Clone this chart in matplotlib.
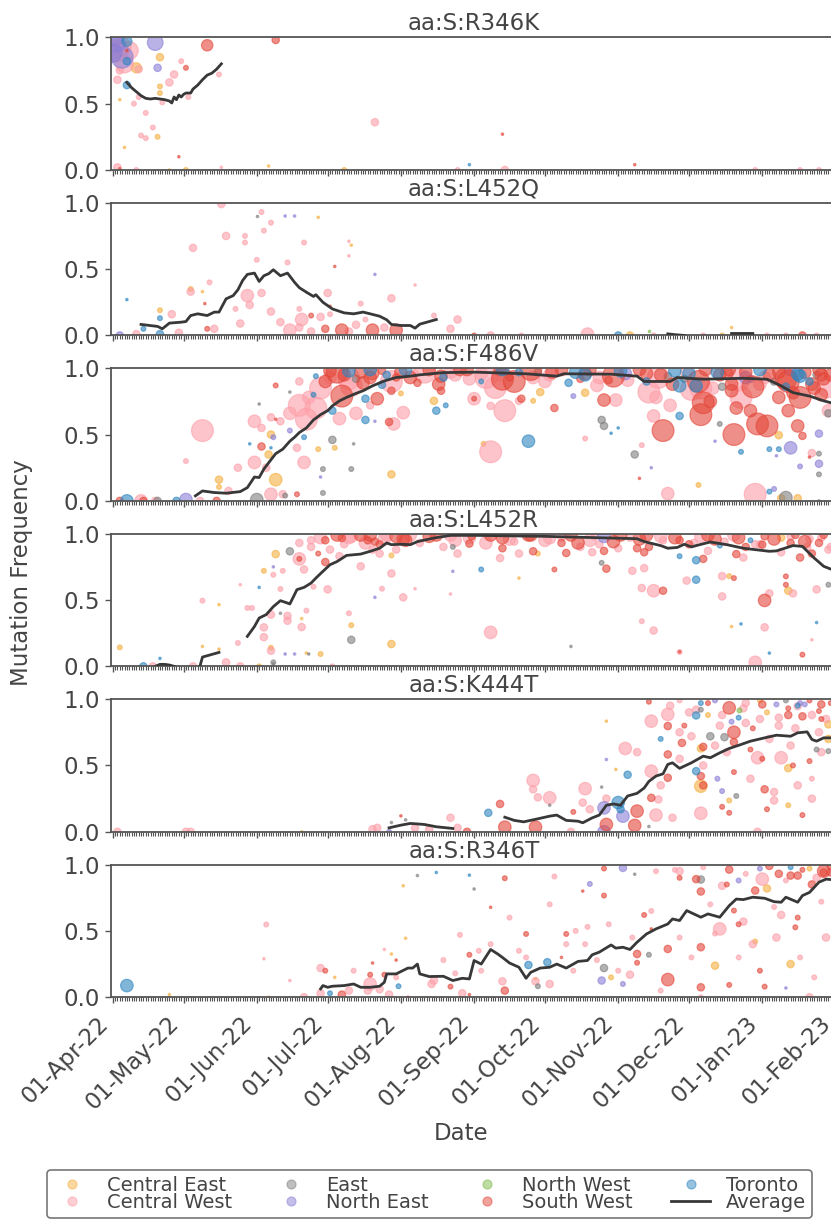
import numpy as np
import matplotlib
matplotlib.use("Agg")
import matplotlib.pyplot as plt
import matplotlib.dates as mdates
from matplotlib.lines import Line2D
import datetime as dt

# ---------------- data ----------------
START = dt.datetime(2022, 4, 1)
MUTATIONS = ["aa:S:R346K", "aa:S:L452Q", "aa:S:F486V", "aa:S:L452R", "aa:S:K444T", "aa:S:R346T"]
REGIONS = ["Central East", "Central West", "East", "North East", "North West", "South West", "Toronto"]
REGION_CODES = ["E", "W", "G", "N", "V", "S", "T"]

# day = days since 01-Apr-22, freq = mutation frequency, n = samples (marker size)
# --- aa:S:R346K ---
R346K_day = [2, 4, 2, 6, 6, 5, 1, 18, 40, 69, 20, 10, 19, 31, 11, 26, 29, 24, 2, 6, 45, 20, 20, 11, 21, 3, 9, 32, 14, 17,
             12, 14, 19, 5, 28, 111, 2, 3, 10, 24, 31, 46, 66, 98, 165, 151, 166, 146, 221, 272, 291, 299, 7, 1, 3, 0, 4, 6]
R346K_freq = [0.90, 0.85, 0.95, 0.97, 0.82, 0.80, 0.99, 0.96, 0.94, 0.98, 0.85, 0.77, 0.77, 0.77, 0.76, 0.72, 0.82, 0.66, 0.68, 0.64,
              0.72, 0.63, 0.58, 0.55, 0.51, 0.53, 0.50, 0.55, 0.43, 0.32, 0.26, 0.24, 0.25, 0.17, 0.10, 0.36, 0.02, 0.01, 0.0, 0.0,
              0.0, 0.02, 0.03, 0.0, 0.27, 0.04, 0.0, 0.0, 0.04, 0.0, 0.0, 0.0, 0.90, 0.90, 0.75, 0.88, 0.93, 0.90]
R346K_region = "W N N T T W N N S S E E N S W W W W W T W E E W W E W W W W W W E E S W W S W E E W E E S T W W S W W W W W W N W S".split()
R346K_n = [34, 34, 20, 10, 6, 25, 20, 20, 12, 6, 6, 10, 6, 3, 6, 6, 3, 6, 6, 6, 3, 3, 3, 3, 3, 1, 3, 3, 3, 3,
           3, 3, 3, 1, 1, 6, 6, 1, 3, 1, 3, 1, 1, 3, 1, 1, 6, 3, 1, 3, 3, 3, 25, 20, 6, 25, 25, 1]
R346K_avg_day = [6, 8, 10, 12, 14, 16, 18, 20, 22, 24, 25, 26, 27, 28, 29, 30, 31, 33, 34, 36, 38, 40, 42, 44, 46]
R346K_avg = [0.66, 0.62, 0.59, 0.56, 0.54, 0.535, 0.54, 0.535, 0.53, 0.52, 0.505, 0.55, 0.53, 0.565, 0.55, 0.57, 0.58, 0.58,
             0.61, 0.64, 0.68, 0.715, 0.73, 0.76, 0.80]

# --- aa:S:L452Q ---
L452Q_day = [46, 63, 67, 61, 73, 77, 87, 48, 56, 64, 56, 34, 81, 100, 101, 100, 61, 94, 111, 74, 33, 33, 57, 63, 41, 91, 105, 118,
             6, 20, 20, 25, 39, 38, 80, 88, 92, 90, 97, 110, 120, 43, 54, 40, 13, 3, 20, 10, 28, 75, 84, 100, 146, 143, 160, 153,
             173, 201, 214, 219, 227, 229, 250, 258, 262, 292, 277, 285, 298, 128, 136, 71, 79, 103, 107, 115, 79, 67, 58, 52, 84, 92]
L452Q_freq = [0.99, 0.93, 0.85, 0.90, 0.90, 0.90, 0.89, 0.75, 0.75, 0.79, 0.70, 0.66, 0.70, 0.71, 0.68, 0.60, 0.57, 0.52, 0.46, 0.55,
              0.33, 0.35, 0.30, 0.32, 0.40, 0.32, 0.24, 0.28, 0.27, 0.19, 0.13, 0.16, 0.24, 0.33, 0.12, 0.14, 0.16, 0.05, 0.04, 0.04,
              0.04, 0.05, 0.09, 0.05, 0.05, 0.0, 0.01, 0.01, 0.02, 0.04, 0.03, 0.03, 0.12, 0.05, 0.0, 0.0, 0.0, 0.01, 0.0, 0.0,
              0.03, 0.0, 0.0, 0.0, 0.06, 0.0, 0.0, 0.0, 0.0, 0.38, 0.15, 0.10, 0.06, 0.08, 0.12, 0.06, 0.20, 0.18, 0.23, 0.20, 0.15, 0.22]
L452Q_region = ("W W W G N N E W W W W W W W E W W S N W W E W W W W W W T E T W S E W W W S S S S W W S T N T W W W W W "
                "W W W S W W T E V W W E E S W W W W W W W W W W W W W W S S").split()
L452Q_n = [6, 3, 3, 1, 1, 1, 1, 6, 3, 3, 3, 6, 3, 1, 1, 1, 3, 1, 1, 3, 6, 3, 14, 6, 3, 6, 3, 6, 1, 3, 3, 6, 1, 1, 14, 6, 3, 6, 14, 14,
           14, 6, 6, 3, 3, 6, 6, 6, 6, 14, 6, 6, 6, 6, 6, 3, 3, 14, 6, 6, 1, 3, 3, 3, 1, 6, 3, 3, 3, 1, 3, 6, 6, 6, 3, 6, 3, 6, 6, 3, 3, 1]
L452Q_avg_day = [12, 19, 21, 24, 29, 31, 33, 36, 40, 43, 45, 48, 51, 53, 55, 57, 60, 62, 64, 66, 68, 71, 74, 77, 79, 82, 85, 86,
                 89, 93, 98, 102, 106, 109, 113, 116, 118, 122, 126, 128, 130, 137,
                 np.nan, 235, 238, 242, np.nan, 262, 266, 271]
L452Q_avg = [0.083, 0.068, 0.05, 0.093, 0.10, 0.105, 0.15, 0.163, 0.15, 0.176, 0.176, 0.276, 0.30, 0.344, 0.414, 0.46, 0.47, 0.407,
             0.45, 0.465, 0.495, 0.45, 0.47, 0.40, 0.36, 0.326, 0.294, 0.307, 0.25, 0.20, 0.17, 0.163, 0.176, 0.163, 0.145, 0.118,
             0.083, 0.075, 0.075, 0.055, 0.085, 0.12,
             np.nan, 0.012, 0.006, 0.0, np.nan, 0.015, 0.015, 0.015]

# --- aa:S:F486V (rows of ten) ---
F486V_day = [38, 31, 45, 45, 49, 53, 60, 63, 63, 67,
             69, 67, 68, 66, 60, 65, 69, 69, 58, 67,
             61, 67, 72, 81, 78, 75, 81, 87, 82, 89,
             88, 89, 73, 78, 93, 94, 102, 101, 118, 97,
             90, 93, 86, 100, 107, 107, 111, 117, 123, 119,
             112, 106, 114, 114, 118, 122, 62, 75, 85, 86,
             3, 6, 12, 13, 19, 18, 27, 31, 44, 37,
             79, 88, 83, 92, 75, 71, 79, 96, 101, 103,
             109, 92, 98, 105, 109, 122, 120, 124, 109, 116,
             103, 165, 162, 139, 139, 129, 156, 153, 153, 160,
             166, 172, 173, 181, 178, 136, 137, 141, 187, 195,
             200, 208, 213, 207, 208, 211, 214, 176, 160, 157,
             200, 221, 224, 223, 228, 248, 235, 272, 233, 229,
             249, 250, 263, 273, 277, 264, 286, 290, 292, 262,
             288, 291, 240, 247, 240, 258, 290, 287, 299, 299,
             299, 299, 266, 278, 282, 282, 255, 257, 281, 291,
             278, 280, 285, 283, 290, 299, 303, 303, 296, 295,
             249, 266, 227, 236, 274, 253, 270, 282, 297, 301,
             134, 143, 147, 156, 164, 172, 177, 185, 190, 196,
             202, 206, 215, 217, 223, 232, 238, 244, 251, 257,
             261, 268, 274, 278, 287, 293, 299, 304, 128, 151,
             168, 183, 198, 210, 242, 270, 280, 295, 95, 100,
             110, 118, 126, 132, 138, 145, 150, 158, 163, 170,
             178, 186, 193, 200, 205, 212, 218, 226, 231, 237,
             243, 248, 254, 260, 265, 271, 276, 282, 286, 291,
             296, 300, 303, 245, 262, 285, 300, 230, 140, 165,
             180, 200, 226, 235, 256, 268, 285, 298]
F486V_freq = [0.53, 0.30, 0.16, 0.105, 0.075, 0.25, 0.60, 0.55, 0.41, 0.63,
              0.615, 0.50, 0.48, 0.35, 0.29, 0.25, 0.16, 0.87, 0.43, 0.40,
              0.01, 0.05, 0.05, 0.29, 0.40, 0.53, 0.48, 0.39, 0.615, 0.24,
              0.18, 0.06, 0.04, 0.05, 0.46, 0.40, 0.43, 0.24, 0.20, 0.79,
              0.90, 0.68, 0.70, 0.98, 0.77, 0.61, 0.60, 0.595, 0.665, 0.58,
              0.77, 0.89, 0.98, 0.875, 0.83, 0.81, 0.73, 0.82, 0.80, 0.94,
              0.0, 0.0, 0.0, 0.0, 0.0, 0.0, 0.0, 0.01, 0.0, 0.0,
              0.72, 0.85, 0.78, 0.93, 0.66, 0.60, 0.90, 0.62, 0.87, 0.66,
              0.72, 0.98, 0.95, 0.97, 0.93, 0.97, 0.93, 0.99, 0.99, 0.95,
              0.92, 0.917, 0.854, 0.94, 0.83, 0.89, 0.90, 0.77, 0.77, 0.716,
              0.68, 0.754, 0.77, 0.82, 0.754, 0.754, 0.68, 0.72, 0.70, 0.79,
              0.815, 0.76, 0.76, 0.61, 0.565, 0.51, 0.55, 0.45, 0.37, 0.43,
              0.47, 0.35, 0.42, 0.17, 0.25, 0.12, 0.055, 0.05, 0.53, 0.64,
              0.65, 0.74, 0.50, 0.58, 0.565, 0.70, 0.68, 0.565, 0.49, 0.83,
              0.815, 0.78, 0.64, 0.867, 0.867, 0.86, 0.955, 0.40, 0.28, 0.20,
              0.356, 0.507, 0.37, 0.39, 0.39, 0.495, 0.45, 0.58, 0.34, 0.26,
              0.07, 0.09, 0.025, 0.02, 0.02, 0.0, 0.68, 0.66, 0.36, 0.33,
              0.85, 0.78, 0.82, 0.72, 0.88, 0.75, 0.68, 0.78, 0.85, 0.92,
              0.99, 0.97, 0.99, 0.96, 0.99, 0.97, 0.99, 0.95, 0.99, 0.97,
              0.99, 0.93, 0.98, 0.96, 0.99, 0.95, 0.98, 0.96, 0.99, 0.95,
              0.99, 0.97, 0.99, 0.95, 0.99, 0.97, 0.99, 0.95, 0.96, 0.92,
              0.93, 0.90, 0.92, 0.91, 0.92, 0.92, 0.90, 0.90, 0.97, 0.92,
              0.96, 0.90, 0.93, 0.97, 0.88, 0.95, 0.99, 0.93, 0.95, 0.90,
              0.93, 0.97, 0.89, 0.96, 0.87, 0.94, 0.91, 0.96, 0.93, 0.88,
              0.97, 0.90, 0.85, 0.96, 0.91, 0.86, 0.93, 0.97, 0.90, 0.94,
              0.88, 0.95, 0.86, 0.84, 0.88, 0.92, 0.80, 0.78, 0.93, 0.99,
              0.97, 0.95, 0.90, 0.94, 0.97, 0.93, 0.86, 0.95]
F486V_region = ("W W E E W W W W S W "
                "S E N E W W E S T T "
                "G W W W W N T E W G "
                "N G G S G E G G E S "
                "S T W T T T N S W W "
                "S S S T S E G G T T "
                "S T W S G W T N S W "
                "W W W W W W W W W W "
                "W S S S S S S T T T "
                "G S W S S S T W S W "
                "W W S E E E T T S N "
                "E S W G G T T T W E "
                "W G W S N E W W S W "
                "S S S S S S S S S S "
                "S S T T T G T N N G "
                "G N T T T E N G N N "
                "T N G E E G W G W S "
                "W W W W W S S S S S "
                "S W S W S T S W S T "
                "S W T N S S T T S S "
                "S S T S N S S S W W "
                "S W S S G N G T S W "
                "S W S W S W S W W S "
                "W S T S W S W S W S "
                "W S W S W S W S S T "
                "S S W W S S S W T T "
                "G T T G T N T G").split()
F486V_n = [34, 3, 6, 3, 6, 6, 14, 6, 6, 6,
           1, 6, 3, 6, 14, 6, 14, 3, 1, 1,
           14, 14, 6, 14, 6, 3, 3, 3, 34, 3,
           1, 3, 3, 3, 6, 3, 1, 3, 6, 34,
           14, 6, 34, 14, 6, 6, 1, 6, 14, 14,
           14, 14, 6, 6, 6, 3, 1, 1, 3, 3,
           6, 14, 14, 6, 6, 6, 6, 14, 6, 6,
           34, 34, 14, 14, 14, 6, 6, 14, 34, 14,
           6, 14, 14, 14, 14, 14, 6, 14, 14, 6,
           6, 34, 34, 14, 6, 6, 3, 14, 3, 6,
           34, 6, 6, 6, 3, 6, 6, 3, 6, 3,
           6, 14, 14, 6, 6, 1, 1, 14, 34, 3,
           3, 6, 3, 1, 1, 3, 14, 34, 34, 14,
           34, 34, 34, 34, 34, 14, 14, 14, 6, 14,
           14, 34, 6, 14, 14, 6, 14, 14, 6, 3,
           3, 6, 3, 3, 3, 6, 1, 3, 1, 3,
           3, 3, 14, 6, 6, 1, 14, 6, 6, 1,
           34, 34, 34, 14, 14, 14, 14, 14, 14, 14,
           14, 14, 14, 14, 14, 6, 34, 14, 14, 14,
           14, 14, 14, 14, 14, 14, 14, 14, 14, 14,
           14, 14, 14, 14, 14, 14, 14, 14, 6, 14,
           6, 14, 6, 6, 6, 6, 6, 6, 34, 34,
           14, 34, 14, 34, 14, 14, 14, 34, 14, 34,
           14, 14, 6, 14, 14, 34, 14, 14, 34, 14,
           14, 34, 14, 14, 34, 34, 14, 14, 34, 14,
           14, 14, 34, 34, 14, 34, 14, 14, 6, 14,
           6, 14, 6, 6, 14, 14, 6, 6]
F486V_avg_day = [35, 38, 43, 48, 54, 57, 60, 62, 64, 67, 69, 72, 75, 77, 79, 82, 85, 88, 91, 93, 96, 99, 103, 106, 110, 115, 120,
                 126, 130, 140, 154, 175, 188, 191, 211, 222, 225, 236, 239, 250, 267, 277, 283, 288, 295, 301, 304, 306]
F486V_avg = [0.038, 0.075, 0.063, 0.058, 0.07, 0.10, 0.18, 0.176, 0.24, 0.31, 0.356, 0.39, 0.45, 0.48, 0.515, 0.55, 0.61, 0.65,
             0.68, 0.716, 0.754, 0.78, 0.81, 0.83, 0.867, 0.904, 0.93, 0.94, 0.95, 0.967, 0.97, 0.958, 0.94, 0.958, 0.955, 0.94,
             0.90, 0.90, 0.93, 0.917, 0.924, 0.917, 0.867, 0.816, 0.79, 0.754, 0.74, 0.73]

# --- aa:S:L452R (rows of ten) ---
L452R_day = [3, 13, 17, 20, 34, 38, 45, 38, 45, 48,
             54, 53, 62, 54, 57, 59, 64, 64, 67, 67,
             68, 67, 62, 71, 71, 68, 69, 64, 68, 72,
             75, 79, 79, 81, 74, 74, 80, 82, 85, 80,
             82, 73, 77, 83, 88, 68, 91, 90, 101, 101,
             100, 105, 113, 111, 97, 90, 84, 123, 118, 118,
             111, 114, 118, 93, 105, 101, 95, 88, 120, 126,
             115, 109, 124, 79, 84, 92, 98, 107, 113, 120,
             96, 87, 160, 194, 224, 229, 240, 272, 292, 276,
             262, 266, 298, 296, 278, 224, 229, 233, 243, 247,
             258, 276, 278, 286, 288, 220, 225, 209, 207, 156,
             144, 187, 164, 172, 178, 180, 146, 151, 144, 192,
             203, 214, 208, 222, 240, 247, 250, 264, 267, 258,
             261, 263, 285, 291, 294, 299, 303, 303, 298, 285,
             275, 128, 143, 172, 240, 134, 143, 151, 160, 168,
             177, 185, 194, 202, 208, 215, 223, 232, 240, 249,
             255, 263, 270, 276, 283, 289, 295, 301, 190, 206,
             227, 244, 257, 274, 287, 100, 108, 116, 123, 130,
             137, 145, 152, 158, 165, 170, 176, 183, 190, 197,
             204, 212, 219, 226, 233, 238, 246, 252, 259, 265,
             272, 280, 287, 293, 300, 110, 140, 165, 198, 225,
             252, 268, 283, 296, 304]
L452R_freq = [0.143, 0.0, 0.0, 0.06, 0.0, 0.495, 0.465, 0.15, 0.13, 0.03,
              0.0, 0.176, 0.0, 0.615, 0.44, 0.44, 0.294, 0.22, 0.118, 0.14,
              0.02, 0.39, 0.595, 0.40, 0.583, 0.69, 0.846, 0.72, 0.75, 0.72,
              0.867, 0.81, 0.81, 0.73, 0.38, 0.344, 0.296, 0.42, 0.60, 0.36,
              0.10, 0.093, 0.093, 0.093, 0.093, 0.03, 0.58, 0.786, 0.20, 0.31,
              0.40, 0.754, 0.85, 0.94, 0.967, 0.95, 0.95, 0.52, 0.70, 0.168,
              0.52, 0.585, 0.836, 0.0, 0.99, 0.98, 0.99, 0.97, 0.98, 0.99,
              0.96, 0.99, 0.95, 0.93, 0.90, 0.88, 0.92, 0.93, 0.92, 0.88,
              0.83, 0.85, 0.256, 0.15, 0.34, 0.27, 0.108, 0.03, 0.088, 0.294,
              0.30, 0.32, 0.33, 0.20, 0.10, 0.59, 0.57, 0.57, 0.646, 0.653,
              0.527, 0.497, 0.55, 0.57, 0.55, 0.72, 0.74, 0.736, 0.78, 0.73,
              0.716, 0.73, 0.816, 0.85, 0.867, 0.85, 0.85, 0.925, 0.90, 0.854,
              0.86, 0.89, 0.87, 0.89, 0.83, 0.80, 0.81, 0.846, 0.82, 0.68,
              0.68, 0.665, 0.678, 0.82, 0.90, 0.93, 0.88, 0.615, 0.58, 0.615,
              0.917, 0.585, 0.545, 0.665, 0.11, 0.98, 0.99, 0.97, 0.99, 0.96,
              0.99, 0.97, 0.99, 0.95, 0.98, 0.99, 0.96, 0.98, 0.95, 0.98,
              0.96, 0.99, 0.95, 0.98, 0.97, 0.99, 0.96, 0.99, 0.93, 0.92,
              0.90, 0.92, 0.91, 0.92, 0.93, 0.97, 0.95, 0.99, 0.96, 0.93,
              0.99, 0.95, 0.98, 0.93, 0.97, 0.94, 0.99, 0.95, 0.97, 0.93,
              0.98, 0.94, 0.97, 0.99, 0.95, 0.97, 0.93, 0.99, 0.94, 0.97,
              0.92, 0.96, 0.98, 0.94, 0.97, 0.88, 0.90, 0.89, 0.90, 0.86,
              0.87, 0.90, 0.86, 0.85, 0.90]
L452R_region = ("E T W T W W E E E W "
                "W W E W W W W W W E "
                "G W T G W W E E N W "
                "G W S W W W W W W E "
                "E N N G E G W S G E "
                "W W W S S S W W W E "
                "N W E W S W S W S W "
                "W S S W W W W W S W "
                "W S W G W W W W S W "
                "E T T W T W W S W T "
                "W S W E W W W S G T "
                "N S W W S E W S G S "
                "W W S S T T S S W W "
                "E S S S W S W G W S "
                "S W W E S S W W S W "
                "S W S W N S S W S W "
                "S W T S E S W S S W "
                "S S T W S W S W S W "
                "S W S W S W S W W S "
                "W S W S W S W S W S "
                "W S W S W W W S W S "
                "W S W S W").split()
L452R_n = [3, 6, 6, 1, 6, 3, 1, 1, 1, 6,
           6, 3, 3, 1, 3, 3, 6, 6, 6, 3,
           1, 6, 1, 1, 3, 3, 6, 3, 1, 3,
           6, 14, 3, 6, 6, 6, 6, 3, 3, 1,
           1, 1, 1, 1, 3, 3, 6, 6, 6, 3,
           3, 6, 6, 6, 6, 6, 6, 6, 6, 6,
           1, 3, 3, 3, 14, 14, 14, 14, 14, 14,
           14, 14, 14, 6, 6, 6, 6, 14, 6, 6,
           6, 3, 14, 1, 3, 6, 3, 14, 3, 6,
           1, 1, 1, 1, 1, 6, 14, 6, 6, 6,
           6, 14, 6, 6, 6, 6, 6, 6, 3, 3,
           1, 3, 6, 6, 6, 3, 6, 6, 3, 6,
           6, 6, 6, 6, 3, 6, 6, 6, 6, 6,
           3, 3, 3, 6, 6, 6, 6, 3, 6, 3,
           6, 1, 1, 1, 1, 14, 14, 14, 14, 14,
           14, 14, 14, 14, 14, 14, 14, 14, 6, 14,
           14, 14, 3, 6, 6, 6, 6, 6, 6, 6,
           6, 6, 3, 6, 6, 14, 6, 14, 14, 6,
           14, 14, 6, 14, 14, 6, 14, 14, 6, 14,
           6, 14, 6, 14, 6, 14, 6, 14, 6, 14,
           6, 14, 6, 14, 6, 6, 6, 6, 6, 6,
           6, 6, 6, 6, 6]
L452R_avg_day = [18, 20, 22, 24, 26, np.nan, 37, 38, 45, np.nan,
                 57, 60, 62, 65, 68, 71, 74, 75, 78, 81, 84, 86, 89, 92, 95, 99, 105, 109, 113, 116, 118, 122, 126, 129, 136, 143,
                 154, 182, 211, 222, 225, 232, 235, 239, 242, 245, 247, 253, 260, 267, 278, 281, 288, 292, 297, 301, 304, 306]
L452R_avg = [0.0, 0.015, 0.015, 0.01, 0.0, np.nan, 0.005, 0.07, 0.105, np.nan,
             0.226, 0.30, 0.364, 0.39, 0.45, 0.495, 0.477, 0.47, 0.578, 0.595, 0.628, 0.665, 0.716, 0.766, 0.79, 0.836, 0.846,
             0.867, 0.89, 0.93, 0.917, 0.92, 0.917, 0.94, 0.967, 0.987, 0.987, 0.98, 0.967, 0.962, 0.94, 0.91, 0.89, 0.896,
             0.92, 0.90, 0.91, 0.937, 0.917, 0.89, 0.867, 0.87, 0.91, 0.904, 0.816, 0.754, 0.733, 0.73]

# --- aa:S:K444T (rows of ten) ---
K444T_day = [2, 33, 31, 80, 112, 110, 117, 118, 122, 124,
             128, 134, 143, 146, 150, 159, 164, 166, 179, 178,
             178, 185, 180, 185, 194, 200, 199, 195, 202, 209,
             209, 213, 218, 217, 207, 209, 214, 215, 208, 216,
             208, 209, 222, 221, 230, 237, 231, 228, 227, 228,
             235, 235, 235, 228, 235, 241, 247, 253, 259, 263,
             263, 249, 250, 247, 249, 249, 250, 258, 256, 264,
             261, 258, 261, 280, 277, 276, 283, 273, 270, 286,
             286, 292, 290, 292, 286, 290, 275, 300, 303, 303,
             265, 281, 261, 290, 298, 303, 273, 249, 300, 295,
             296, 227, 240, 249, 255, 268, 274, 285, 291, 295,
             244, 274, 282, 268, 257, 240, 222, 299, 278, 287,
             232, 252, 265, 249, 236, 242, 247, 252, 258, 262,
             267, 271, 277, 282, 286, 289, 293, 296, 299, 302,
             304, 245, 260, 275, 250, 255, 263, 270, 280, 288,
             296, 300, 240, 232]
K444T_freq = [0.0, 0.0, 0.0, 0.0, 0.03, 0.02, 0.0, 0.07, 0.12, 0.09,
              0.03, 0.02, 0.106, 0.03, 0.0, 0.143, 0.21, 0.035, 0.035, 0.387,
              0.32, 0.256, 0.26, 0.20, 0.0, 0.325, 0.22, 0.15, 0.17, 0.834,
              0.545, 0.47, 0.43, 0.628, 0.337, 0.25, 0.22, 0.17, 0.18, 0.118,
              0.0, 0.055, 0.156, 0.048, 0.126, 0.106, 0.244, 0.256, 0.04, 0.457,
              0.407, 0.583, 0.797, 0.834, 0.885, 0.67, 0.877, 0.72, 0.713, 0.75,
              0.676, 0.628, 0.64, 0.457, 0.42, 0.344, 0.35, 0.307, 0.40, 0.27,
              0.236, 0.188, 0.143, 0.236, 0.17, 0.32, 0.558, 0.558, 0.62, 0.48,
              0.20, 0.126, 0.35, 0.87, 0.88, 0.947, 0.96, 0.96, 0.81, 0.608,
              0.915, 0.96, 0.934, 0.95, 0.62, 0.70, 0.0, 0.14, 0.85, 0.533,
              0.40, 0.98, 0.99, 0.97, 0.99, 0.97, 0.99, 0.99, 0.97, 0.99,
              0.90, 0.85, 0.80, 0.82, 0.80, 0.75, 0.60, 0.75, 0.70, 0.65,
              0.70, 0.88, 0.86, 0.92, 0.95, 0.80, 0.92, 0.97, 0.88, 0.83,
              0.93, 0.78, 0.90, 0.86, 0.93, 0.78, 0.96, 0.88, 0.91, 0.85,
              0.97, 0.72, 0.60, 0.55, 0.50, 0.65, 0.45, 0.40, 0.30, 0.50,
              0.25, 0.60, 0.55, 0.35]
K444T_region = ("W W W E W W N G S G "
                "W W W W S T S S S W "
                "W W W G W W W S W E "
                "N E T W G W T T N N "
                "N S S S W W W S G W "
                "S S S W W S T G G S "
                "S E S T S E S N N G "
                "E S S W S S W W S E "
                "E S W S S W S S E G "
                "V N S T G E W W S S "
                "W S W T N W E G N S "
                "W W W W W W W W W W "
                "T E T G W S W S W N "
                "W S E W S W N W S W "
                "S W W S W W S W W S "
                "W W W W").split()
K444T_n = [6, 6, 6, 1, 6, 6, 3, 1, 1, 1,
           6, 6, 6, 6, 6, 6, 6, 14, 14, 14,
           6, 14, 6, 1, 6, 14, 6, 3, 6, 1,
           1, 1, 6, 14, 1, 6, 14, 6, 14, 14,
           14, 14, 14, 14, 14, 6, 6, 6, 1, 14,
           6, 6, 6, 14, 14, 6, 6, 6, 6, 14,
           6, 6, 6, 6, 6, 14, 6, 3, 3, 3,
           3, 3, 3, 6, 3, 6, 14, 14, 3, 6,
           3, 3, 6, 6, 6, 6, 6, 6, 6, 3,
           3, 3, 14, 3, 3, 6, 6, 14, 3, 3,
           3, 3, 3, 3, 3, 6, 3, 3, 3, 3,
           6, 6, 6, 6, 6, 6, 6, 6, 6, 6,
           3, 3, 3, 3, 6, 3, 6, 3, 6, 3,
           6, 3, 3, 6, 3, 6, 3, 6, 3, 6,
           3, 6, 6, 3, 6, 6, 3, 6, 6, 3,
           6, 6, 6, 6]
K444T_avg_day = [117, 122, 126, 130, 132, 137, 144, np.nan,
                 166, 170, 174, 180, 185, 188, 192, 197, 199, 203, 206, 209, 212, 215, 218, 222, 225, 227, 230, 233, 235, 237,
                 240, 242, 245, 250, 253, 257, 261, 266, 270, 276, 281, 287, 290, 294, 296, 298, 301, 304, 306]
K444T_avg = [0.03, 0.05, 0.063, 0.058, 0.055, 0.038, 0.025, np.nan,
             0.11, 0.086, 0.075, 0.098, 0.118, 0.126, 0.086, 0.08, 0.068, 0.105, 0.126, 0.20, 0.21, 0.20, 0.27, 0.29, 0.33,
             0.38, 0.42, 0.437, 0.508, 0.52, 0.478, 0.495, 0.52, 0.57, 0.558, 0.595, 0.628, 0.658, 0.683, 0.708, 0.728, 0.72,
             0.746, 0.753, 0.696, 0.683, 0.708, 0.708, 0.71]

# --- aa:S:R346T (rows of ten) ---
R346T_day = [6, 24, 66, 65, 64, 75, 88, 90, 94, 102,
             109, 115, 110, 115, 118, 120, 123, 129, 124, 117,
             92, 97, 109, 121, 108, 113, 88, 81, 125, 137,
             151, 153, 166, 160, 187, 202, 199, 221, 208, 238,
             261, 216, 147, 160, 151, 140, 176, 184, 179, 166,
             148, 136, 151, 179, 180, 192, 175, 192, 201, 208,
             208, 207, 222, 222, 216, 211, 228, 227, 219, 235,
             235, 249, 249, 249, 247, 249, 258, 255, 257, 261,
             272, 277, 287, 290, 301, 289, 271, 272, 276, 275,
             301, 296, 263, 267, 283, 281, 287, 285, 295, 302,
             304, 249, 232, 214, 240, 253, 265, 291, 297, 274,
             190, 172, 156, 143, 168, 185, 196, 228, 240, 274,
             287, 295, 282, 265, 230, 240, 250, 260, 268, 278,
             285, 292, 298, 304, 200, 210, 220, 225, 245, 255,
             265, 280, 290, 300, 100, 120, 135, 145, 155, 165,
             175, 185, 195, 205]
R346T_freq = [0.088, 0.02, 0.0, 0.548, 0.29, 0.126, 0.22, 0.20, 0.15, 0.20,
              0.17, 0.17, 0.258, 0.36, 0.326, 0.28, 0.84, 0.917, 0.445, 0.02,
              0.03, 0.02, 0.10, 0.083, 0.05, 0.06, 0.03, 0.0, 0.0, 0.94,
              0.92, 0.816, 0.897, 0.678, 0.91, 0.854, 0.80, 0.927, 0.97, 0.96,
              0.962, 0.975, 0.47, 0.40, 0.32, 0.28, 0.243, 0.264, 0.12, 0.05,
              0.03, 0.126, 0.02, 0.14, 0.083, 0.40, 0.477, 0.477, 0.53, 0.766,
              0.22, 0.126, 0.326, 0.26, 0.10, 0.15, 0.515, 0.32, 0.17, 0.133,
              0.364, 0.377, 0.075, 0.797, 0.89, 0.887, 0.84, 0.238, 0.515, 0.093,
              0.804, 0.82, 0.917, 0.917, 0.94, 0.527, 0.40, 0.42, 0.08, 0.89,
              0.95, 0.85, 0.653, 0.57, 0.62, 0.45, 0.25, 0.07, 0.0, 0.45,
              0.94, 0.0, 0.05, 0.20, 0.45, 0.70, 0.30, 0.30, 0.15, 0.20,
              0.30, 0.35, 0.20, 0.08, 0.60, 0.70, 0.50, 0.65, 0.95, 0.97,
              0.98, 0.97, 0.93, 0.88, 0.95, 0.90, 0.98, 0.85, 0.93, 0.99,
              0.88, 0.96, 0.90, 0.99, 0.40, 0.55, 0.45, 0.62, 0.30, 0.48,
              0.55, 0.68, 0.60, 0.72, 0.05, 0.15, 0.10, 0.18, 0.35, 0.12,
              0.30, 0.10, 0.20, 0.28]
R346T_region = ("T E E W W W W S E W "
                "S S S W E S E G E W "
                "T S W T W W W W S T "
                "T G S S W N S G S W "
                "S N W W S W T T W S "
                "W W S E G W S S W S "
                "G N S S N E S G W S "
                "S S S S S G W E W S "
                "S E S S S S W E S W "
                "S S S W W W E N W W "
                "S W W W W W W W W S "
                "S W W S W W W W W N "
                "T E S N W S W S W S "
                "W S W S W W W S W W "
                "S W S W W W W W W W "
                "W W W W").split()
R346T_n = [14, 1, 1, 3, 1, 1, 6, 3, 1, 3,
           3, 3, 1, 1, 1, 1, 1, 1, 1, 6,
           3, 6, 14, 3, 6, 6, 6, 6, 1, 1,
           1, 1, 3, 1, 3, 3, 1, 1, 3, 3,
           6, 6, 3, 3, 3, 3, 6, 6, 6, 6,
           6, 6, 1, 1, 3, 3, 3, 3, 3, 3,
           6, 6, 6, 3, 3, 3, 1, 3, 6, 14,
           6, 6, 6, 6, 6, 6, 6, 6, 14, 3,
           6, 6, 6, 6, 6, 3, 6, 3, 3, 14,
           14, 6, 3, 6, 6, 6, 6, 1, 6, 6,
           6, 3, 3, 3, 3, 3, 3, 3, 3, 3,
           1, 3, 3, 3, 3, 3, 3, 3, 6, 3,
           3, 3, 6, 3, 3, 3, 3, 3, 3, 6,
           3, 3, 6, 6, 3, 3, 3, 3, 3, 3,
           3, 3, 3, 3, 6, 3, 6, 3, 3, 6,
           3, 6, 3, 3]
R346T_avg_day = [88, 89, 91, 93, 98, 102, 105, 109, 113, 115, 116, 120, 125, 127, 129, 130, 134, 140, 144, 148, 151, 153, 156, 160,
                 163, 165, 168, 172, 175, 177, 181, 185, 188, 192, 197, 201, 203, 206, 211, 213, 216, 219, 222, 226, 230, 235, 237,
                 240, 243, 246, 249, 252, 257, 261, 264, 267, 271, 276, 280, 283, 285, 290, 292, 295, 299, 302, 304, 306]
R346T_avg = [0.063, 0.088, 0.075, 0.083, 0.088, 0.10, 0.075, 0.075, 0.083, 0.113, 0.176, 0.176, 0.22, 0.22, 0.25, 0.176, 0.156,
             0.158, 0.126, 0.143, 0.138, 0.277, 0.25, 0.36, 0.326, 0.30, 0.258, 0.226, 0.143, 0.188, 0.22, 0.226, 0.25, 0.22,
             0.27, 0.277, 0.32, 0.34, 0.394, 0.37, 0.377, 0.36, 0.415, 0.477, 0.515, 0.552, 0.59, 0.578, 0.653, 0.628, 0.603,
             0.628, 0.603, 0.69, 0.74, 0.736, 0.754, 0.746, 0.72, 0.716, 0.754, 0.716, 0.766, 0.79, 0.867, 0.89, 0.887, 0.89]

# ---------------- style ----------------
REGION_COLORS = ["#f5b041", "#fd9fa9", "#7f7f7f", "#8a7fd6", "#7dba4a", "#e4473a", "#2e86c1"]
TEXT = "#444444"
FS = 16.5

plt.rcParams.update({
    "font.family": ["DejaVu Sans"],
    "text.color": TEXT,
    "axes.labelcolor": TEXT,
    "axes.edgecolor": "#555555",
    "xtick.color": "#555555",
    "ytick.color": "#555555",
    "xtick.labelcolor": TEXT,
    "ytick.labelcolor": TEXT,
})

panels = [
    (R346K_day, R346K_freq, R346K_region, R346K_n, R346K_avg_day, R346K_avg),
    (L452Q_day, L452Q_freq, L452Q_region, L452Q_n, L452Q_avg_day, L452Q_avg),
    (F486V_day, F486V_freq, F486V_region, F486V_n, F486V_avg_day, F486V_avg),
    (L452R_day, L452R_freq, L452R_region, L452R_n, L452R_avg_day, L452R_avg),
    (K444T_day, K444T_freq, K444T_region, K444T_n, K444T_avg_day, K444T_avg),
    (R346T_day, R346T_freq, R346T_region, R346T_n, R346T_avg_day, R346T_avg),
]

W, H = 831, 1219
fig = plt.figure(figsize=(W / 100, H / 100), dpi=100)
x0 = mdates.date2num(START)

x_left = x0 - 0.85
x_right = mdates.date2num(dt.datetime(2023, 2, 1)) + 0.85

left_px, right_px = 110.7, 837.5
top0, pitch, hgt = 37.3, 165.45, 132.7


def marker_area(n):
    return 3.0 * np.asarray(n, dtype=float) ** 1.25


for i, (name, data) in enumerate(zip(MUTATIONS, panels)):
    days, freq, reg, n, adays, avals = data
    L = min(len(days), len(freq), len(reg), len(n))
    days = np.asarray(days[:L], dtype=float)
    freq = np.asarray(freq[:L], dtype=float)
    reg = np.asarray(reg[:L])
    n = np.asarray(n[:L], dtype=float)
    top_px = top0 + pitch * i
    ax = fig.add_axes([left_px / W, 1 - (top_px + hgt) / H, (right_px - left_px) / W, hgt / H])
    for code, col in zip(REGION_CODES, REGION_COLORS):
        m = reg == code
        if m.any():
            ax.scatter(x0 + days[m], freq[m], s=marker_area(n[m]), color=col, alpha=0.6, linewidths=0.9, zorder=2)
    La = min(len(adays), len(avals))
    ax.plot(x0 + np.asarray(adays[:La], dtype=float), np.asarray(avals[:La], dtype=float),
            color="#383838", lw=2.0, zorder=3)
    ax.set_xlim(x_left, x_right)
    ax.set_ylim(0, 1)
    ax.set_yticks([0, 0.5, 1.0])
    ax.set_yticklabels(["0.0", "0.5", "1.0"])
    ax.set_title(name, fontsize=FS, color=TEXT, pad=5)
    ax.xaxis.set_major_locator(mdates.MonthLocator(bymonthday=1))
    ax.xaxis.set_minor_locator(mdates.DayLocator())
    ax.xaxis.set_major_formatter(mdates.DateFormatter("%d-%b-%y"))
    ax.tick_params(axis="both", which="major", labelsize=FS, length=4.5, width=1.0, pad=3)
    ax.tick_params(axis="x", which="major", pad=6)
    ax.tick_params(axis="x", which="minor", length=2.6, width=0.8)
    ax.spines["right"].set_visible(False)
    for sp in ["left", "top", "bottom"]:
        ax.spines[sp].set_linewidth(1.3)
    if i < len(MUTATIONS) - 1:
        ax.tick_params(axis="x", labelbottom=False)
    else:
        for lab in ax.get_xticklabels():
            lab.set_rotation(45)
            lab.set_ha("right")

fig.text(22 / W, 1 - 573 / H, "Mutation Frequency", rotation=90, ha="center", va="center", fontsize=FS, color=TEXT)
fig.text(461 / W, 1 - 1133 / H, "Date", ha="center", va="center", fontsize=FS, color=TEXT)

handles = [Line2D([], [], marker="o", ls="", color=c, alpha=0.5, markersize=6.5, markeredgewidth=0.9) for c in REGION_COLORS]
handles.append(Line2D([], [], color="#383838", lw=2.0))
labels = REGIONS + ["Average"]
leg = fig.legend(handles, labels, loc="upper center", bbox_to_anchor=(429.5 / W, 1 - 1170 / H), ncol=4, fontsize=14,
                 frameon=True, fancybox=True, labelspacing=-0.08, columnspacing=2.0, handlelength=2.0,
                 handletextpad=0.8, borderpad=0.3, borderaxespad=0.0)
leg.get_frame().set_edgecolor("#555555")
leg.get_frame().set_linewidth(1.2)
for t in leg.get_texts():
    t.set_color(TEXT)

fig.savefig("out.png", dpi=100)
